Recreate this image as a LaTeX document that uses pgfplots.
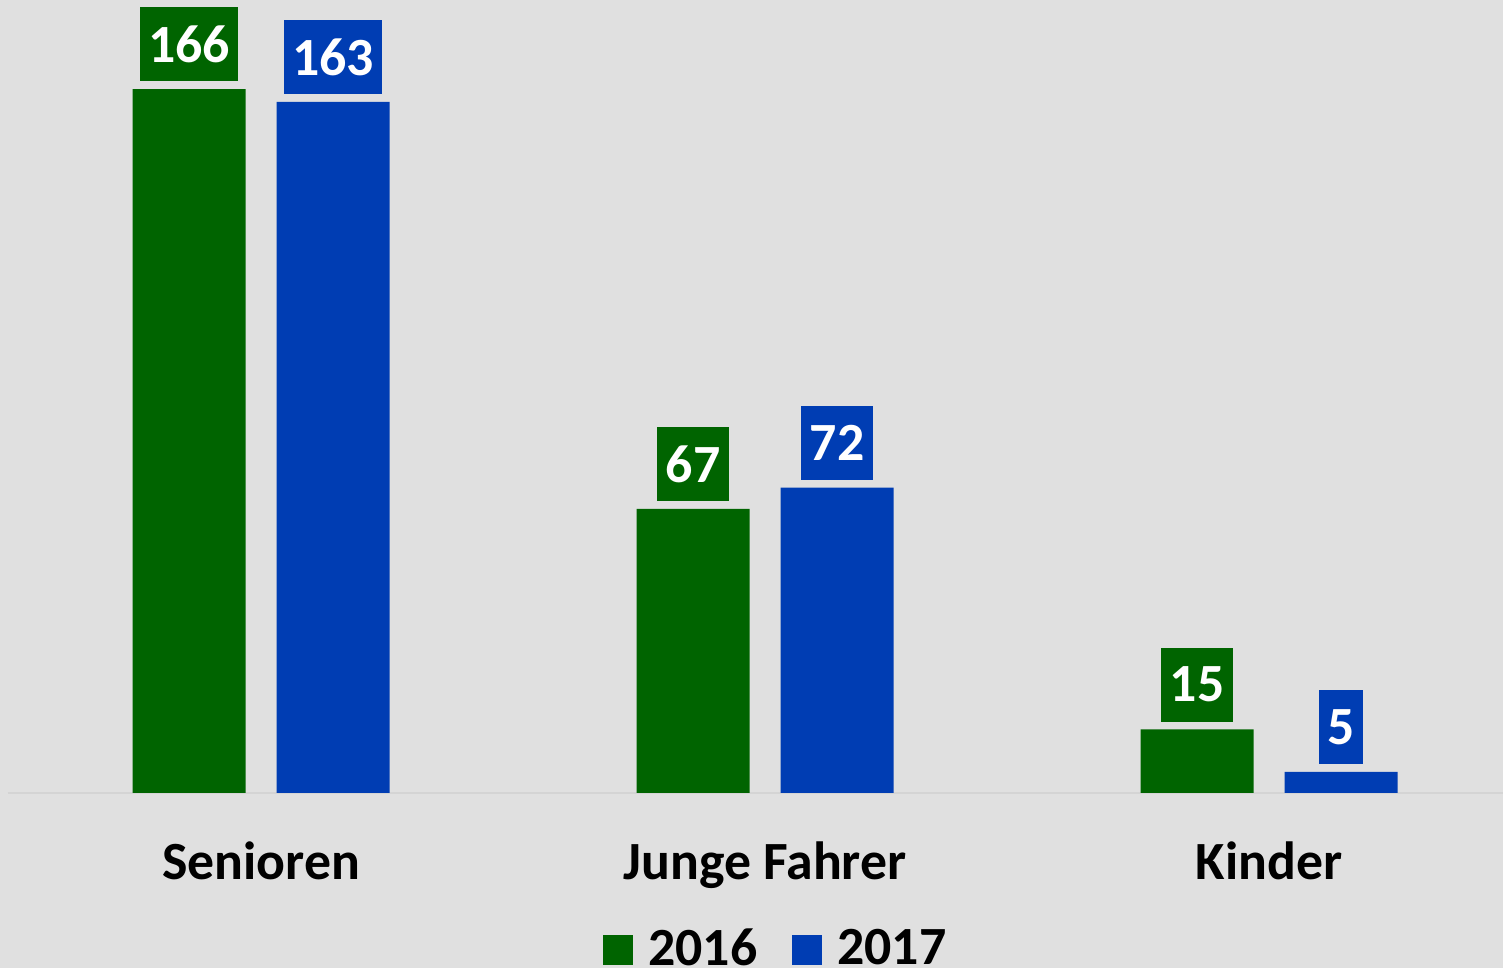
\documentclass[border=0pt]{standalone}
\usepackage{fontspec}
\setmainfont{Carlito}
\usepackage{pgfplots}
\pgfplotsset{compat=1.18}
\definecolor{bg}{RGB}{224,224,224}
\definecolor{gr}{RGB}{0,100,0}
\definecolor{bl}{RGB}{0,61,179}
\definecolor{ax}{RGB}{212,212,212}
\newcommand{\lbl}{\fontsize{15.3}{18}\selectfont\bfseries}

\begin{document}
\begin{tikzpicture}
\fill[bg] (0,0) rectangle (15.03cm,9.68cm);
\useasboundingbox (0,0) rectangle (15.03cm,9.68cm);
\begin{axis}[
  at={(0.08cm,1.75cm)}, anchor=south west,
  scale only axis, width=14.95cm, height=7.93cm,
  xmin=-0.502, xmax=2.464, ymin=0, ymax=187,
  ybar=0.31cm, bar width=1.13cm,
  axis x line*=bottom, axis y line=none,
  x axis line style={color=ax, line width=0.8pt, -},
  xtick={0,1,2}, xticklabels={Senioren,Junge Fahrer,Kinder},
  major tick length=0pt,
  xticklabel style={font=\lbl, text=black, yshift=-0.36cm},
  /pgf/number format/assume math mode=true,
  nodes near coords,
  every node near coord/.append style={font=\lbl, text=white,
    minimum height=0.74cm, inner xsep=0.085cm, inner ysep=0pt,
    anchor=south, yshift=0.07cm},
  legend columns=2,
  legend style={at={(0.513,-0.198)}, anchor=center, draw=none, fill=none,
    font=\lbl, nodes={inner sep=0pt},
    /tikz/every even column/.append style={column sep=0.35cm},
    /tikz/every odd column/.append style={column sep=0.15cm}},
  legend image code/.code={\fill[#1] (0cm,-0.15cm) rectangle (0.3cm,0.15cm);},
]
\addplot[fill=gr, draw=none, every node near coord/.append style={fill=gr}]
  coordinates {(0,166) (1,67) (2,15)};
\addlegendentry{2016}
\addplot[fill=bl, draw=none, every node near coord/.append style={fill=bl}]
  coordinates {(0,163) (1,72) (2,5)};
\addlegendentry{2017}
\end{axis}
\end{tikzpicture}
\end{document}
